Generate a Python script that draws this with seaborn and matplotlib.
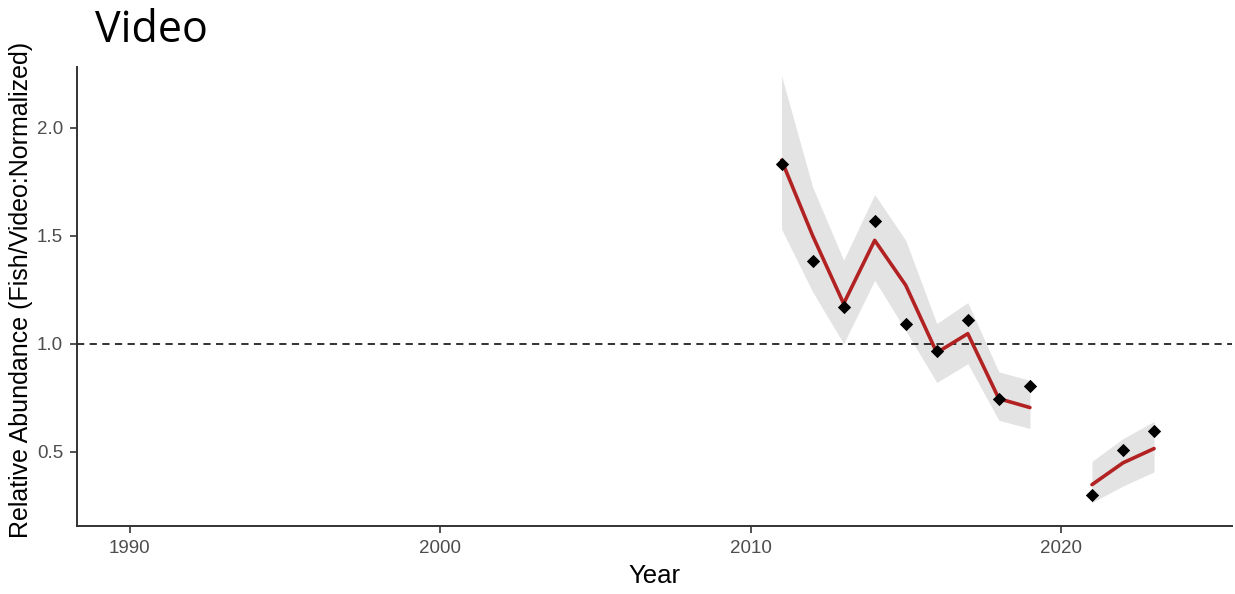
import matplotlib
matplotlib.use("Agg")
import matplotlib.pyplot as plt
import seaborn as sns
import pandas as pd

# index values
years = [2011, 2012, 2013, 2014, 2015, 2016, 2017, 2018, 2019, 2021, 2022, 2023]
observed = [1.833, 1.383, 1.168, 1.566, 1.093, 0.968, 1.108, 0.745, 0.804, 0.298, 0.506, 0.596]
fitted = [1.849, 1.50, 1.185, 1.478, 1.27, 0.958, 1.046, 0.745, 0.704, 0.347, 0.448, 0.514]
upper = [2.24, 1.725, 1.386, 1.69, 1.478, 1.093, 1.19, 0.869, 0.83, 0.455, 0.56, 0.64]
lower = [1.53, 1.24, 1.0, 1.293, 1.06, 0.82, 0.907, 0.645, 0.607, 0.264, 0.341, 0.406]
segment = [1, 1, 1, 1, 1, 1, 1, 1, 1, 2, 2, 2]

df = pd.DataFrame({
    'Year': years,
    'observed': observed,
    'fitted': fitted,
    'upper': upper,
    'lower': lower,
    'segment': segment,
})

sns.set_theme(style='white')
plt.rcParams['font.family'] = ['Liberation Sans', 'DejaVu Sans']

fig = plt.figure(figsize=(12.35, 5.94), dpi=100)
ax = fig.add_axes([0.0623, 0.115, 0.935, 0.772])

# confidence band, one piece per run of years
for seg, part in df.groupby('segment'):
    ax.fill_between(part['Year'], part['lower'], part['upper'],
                    color='#e3e3e3', linewidth=0, zorder=1)

sns.lineplot(data=df, x='Year', y='fitted', hue='segment',
             palette=['#b22222', '#b22222'], linewidth=2.6,
             legend=False, ax=ax, zorder=3)

sns.scatterplot(data=df, x='Year', y='observed', marker='D', color='black',
                s=46, edgecolor='black', linewidth=0, ax=ax, zorder=4)

ax.axhline(1.0, color='#222222', linestyle=(0, (4, 3)), linewidth=1.3, zorder=2)

ax.set_xlim(1988.3, 2025.5)
ax.set_ylim(0.157, 2.28)
ax.set_xticks([1990, 2000, 2010, 2020])
ax.set_yticks([0.5, 1.0, 1.5, 2.0])
ax.set_yticklabels(['0.5', '1.0', '1.5', '2.0'])

for s in ['top', 'right']:
    ax.spines[s].set_visible(False)
for s in ['left', 'bottom']:
    ax.spines[s].set_color('#333333')
    ax.spines[s].set_linewidth(1.4)

ax.tick_params(axis='both', which='major', length=5, width=1.2, color='#333333',
               labelcolor='#4d4d4d', labelsize=13.5, bottom=True, left=True, pad=5)

ax.set_xlabel('Year', fontsize=18.5, color='black', labelpad=5)
ax.set_ylabel('Relative Abundance (Fish/Video:Normalized)', fontsize=18,
              color='black')
ax.yaxis.set_label_coords(-0.038, 0.515)

fig.text(0.077, 0.948, 'Video', fontsize=31, color='black', ha='left', va='center',
         family=['Open Sans', 'DejaVu Sans'])

fig.savefig('out.png', dpi=100)
